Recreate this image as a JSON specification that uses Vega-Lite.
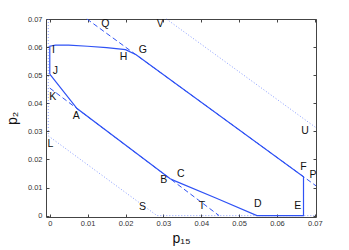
{
  "$schema": "https://vega.github.io/schema/vega-lite/v6.json",
  "width": 270,
  "height": 198,
  "autosize": "none",
  "padding": {"left": 46, "top": 19, "right": 33, "bottom": 33},
  "background": "white",
  "config": {"view": {"stroke": null}, "font": "Liberation Sans"},
  "datasets": {
    "polygon": [
      {"i": 1, "p15": 0, "p2": 0.0504},
      {"i": 2, "p15": 0, "p2": 0.0603},
      {"i": 3, "p15": 0.0015, "p2": 0.0607},
      {"i": 4, "p15": 0.005, "p2": 0.0607},
      {"i": 5, "p15": 0.01, "p2": 0.0603},
      {"i": 6, "p15": 0.015, "p2": 0.0598},
      {"i": 7, "p15": 0.02, "p2": 0.0591},
      {"i": 8, "p15": 0.0228, "p2": 0.0573},
      {"i": 9, "p15": 0.067, "p2": 0.0138},
      {"i": 10, "p15": 0.067, "p2": 0},
      {"i": 11, "p15": 0.0547, "p2": 0},
      {"i": 12, "p15": 0.044, "p2": 0.0062},
      {"i": 13, "p15": 0.0335, "p2": 0.0121},
      {"i": 14, "p15": 0.0318, "p2": 0.0131},
      {"i": 15, "p15": 0.0072, "p2": 0.0381},
      {"i": 16, "p15": 0, "p2": 0.0504}
    ],
    "dashed": [
      {"s": "k1", "i": 1, "p15": 0, "p2": 0.0454},
      {"s": "k1", "i": 2, "p15": 0.0447, "p2": 0},
      {"s": "k2", "i": 1, "p15": 0.0098, "p2": 0.07},
      {"s": "k2", "i": 2, "p15": 0.0703, "p2": 0.0106}
    ],
    "dotted": [
      {"s": "d1", "i": 1, "p15": -0.0004, "p2": 0.07},
      {"s": "d1", "i": 2, "p15": -0.0004, "p2": 0.0284},
      {"s": "d1", "i": 3, "p15": 0.0283, "p2": 0},
      {"s": "d1", "i": 4, "p15": 0.0703, "p2": 0},
      {"s": "d2", "i": 1, "p15": 0.0308, "p2": 0.07},
      {"s": "d2", "i": 2, "p15": 0.0703, "p2": 0.0313}
    ],
    "labels": [
      {"t": "Q", "p15": 0.0147, "p2": 0.0683},
      {"t": "V", "p15": 0.0292, "p2": 0.0683},
      {"t": "I", "p15": 0.001, "p2": 0.0591},
      {"t": "H", "p15": 0.0195, "p2": 0.0565},
      {"t": "G", "p15": 0.0246, "p2": 0.0588},
      {"t": "J", "p15": 0.0015, "p2": 0.0514},
      {"t": "K", "p15": 0.0008, "p2": 0.0421},
      {"t": "A", "p15": 0.007, "p2": 0.0353},
      {"t": "L", "p15": 0.0002, "p2": 0.0256},
      {"t": "B", "p15": 0.0301, "p2": 0.0126},
      {"t": "C", "p15": 0.0346, "p2": 0.0149},
      {"t": "S", "p15": 0.0245, "p2": 0.0031},
      {"t": "T", "p15": 0.0402, "p2": 0.0033},
      {"t": "D", "p15": 0.0549, "p2": 0.0042},
      {"t": "E", "p15": 0.0655, "p2": 0.0033},
      {"t": "F", "p15": 0.067, "p2": 0.0172},
      {"t": "P", "p15": 0.0695, "p2": 0.0143},
      {"t": "U", "p15": 0.0674, "p2": 0.03}
    ]
  },
  "resolve": {"axis": {"x": "independent", "y": "independent"}},
  "layer": [
    {
      "data": {"name": "dotted"},
      "mark": {"type": "line", "color": "#3a5cff", "strokeWidth": 1, "strokeDash": [1, 2], "opacity": 0.6},
      "encoding": {
        "x": {"field": "p15", "type": "quantitative",
          "scale": {"domain": [-0.001, 0.0703], "nice": false, "zero": false},
          "axis": {"orient": "bottom", "values": [0, 0.01, 0.02, 0.03, 0.04, 0.05, 0.06, 0.07], "format": ".2~f",
            "grid": false, "tickSize": -3, "tickColor": "#444", "domainColor": "#444", "labelColor": "#333",
            "labelFontSize": 7.5, "labelPadding": 5, "title": "p₁₅", "titleFontSize": 14, "titleFontWeight": "normal",
            "titleColor": "#111", "titlePadding": 5}},
        "y": {"field": "p2", "type": "quantitative",
          "scale": {"domain": [-0.0005, 0.07], "nice": false, "zero": false},
          "axis": {"orient": "left", "values": [0, 0.01, 0.02, 0.03, 0.04, 0.05, 0.06, 0.07], "format": ".2~f",
            "grid": false, "tickSize": -3, "tickColor": "#444", "domainColor": "#444", "labelColor": "#333",
            "labelFontSize": 7.5, "labelPadding": 7, "title": "p₂", "titleFontSize": 14, "titleFontWeight": "normal",
            "titleColor": "#111", "titlePadding": 8}},
        "detail": {"field": "s"},
        "order": {"field": "i", "type": "quantitative"}
      }
    },
    {
      "data": {"name": "dashed"},
      "mark": {"type": "line", "color": "#2f52f5", "strokeWidth": 1, "strokeDash": [5, 3]},
      "encoding": {
        "x": {"field": "p15", "type": "quantitative",
          "scale": {"domain": [-0.001, 0.0703], "nice": false, "zero": false},
          "axis": {"orient": "top", "values": [0, 0.01, 0.02, 0.03, 0.04, 0.05, 0.06, 0.07], "labels": false,
            "grid": false, "tickSize": -3, "tickColor": "#444", "domainColor": "#444", "title": null}},
        "y": {"field": "p2", "type": "quantitative",
          "scale": {"domain": [-0.0005, 0.07], "nice": false, "zero": false},
          "axis": {"orient": "right", "values": [0, 0.01, 0.02, 0.03, 0.04, 0.05, 0.06, 0.07], "labels": false,
            "grid": false, "tickSize": -3, "tickColor": "#444", "domainColor": "#444", "title": null}},
        "detail": {"field": "s"},
        "order": {"field": "i", "type": "quantitative"}
      }
    },
    {
      "data": {"name": "polygon"},
      "mark": {"type": "line", "color": "#2f52f5", "strokeWidth": 1.2},
      "encoding": {
        "x": {"field": "p15", "type": "quantitative",
          "scale": {"domain": [-0.001, 0.0703], "nice": false, "zero": false}, "axis": null},
        "y": {"field": "p2", "type": "quantitative",
          "scale": {"domain": [-0.0005, 0.07], "nice": false, "zero": false}, "axis": null},
        "order": {"field": "i", "type": "quantitative"}
      }
    },
    {
      "data": {"name": "labels"},
      "mark": {"type": "text", "fontSize": 10.5, "color": "#111", "align": "center", "baseline": "middle"},
      "encoding": {
        "x": {"field": "p15", "type": "quantitative",
          "scale": {"domain": [-0.001, 0.0703], "nice": false, "zero": false}, "axis": null},
        "y": {"field": "p2", "type": "quantitative",
          "scale": {"domain": [-0.0005, 0.07], "nice": false, "zero": false}, "axis": null},
        "text": {"field": "t"}
      }
    }
  ]
}
